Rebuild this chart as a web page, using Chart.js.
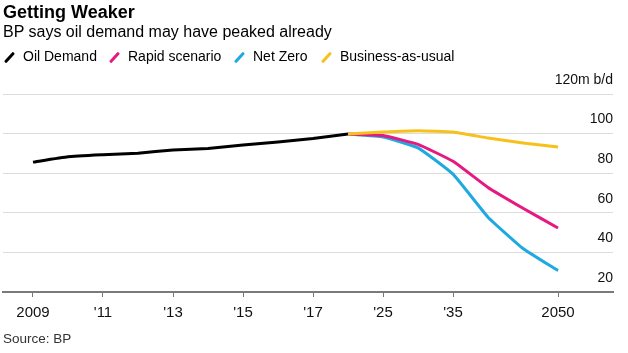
<!DOCTYPE html>
<html>
<head>
<meta charset="utf-8">
<script src="https://cdn.jsdelivr.net/npm/chart.js@4"></script>
<style>
  html, body { margin:0; padding:0; background:#fff; }
  body { width:628px; height:353px; position:relative; overflow:hidden; font-family:"Liberation Sans", Arial, sans-serif; color:#000; }
  #title { position:absolute; left:3px; top:3px; font-size:18px; line-height:18px; font-weight:bold; }
  #subtitle { position:absolute; left:3px; top:24px; font-size:16px; line-height:16px; }
  #legend { position:absolute; left:0; top:49px; font-size:14px; line-height:14px; white-space:nowrap; }
  .item { position:absolute; top:0; }
  .sw { position:absolute; top:2px; width:3px; height:13px; transform:rotate(42deg); border-radius:1px; }
  #source { position:absolute; left:3px; top:332px; font-size:13.5px; line-height:14px; color:#333; }
  #wrap { position:absolute; left:0; top:0; width:628px; height:353px; }
</style>
</head>
<body>
<div id="wrap"><canvas id="c" width="628" height="353"></canvas></div>
<div id="title">Getting Weaker</div>
<div id="subtitle">BP says oil demand may have peaked already</div>
<div id="legend"></div>
<div id="source">Source: BP</div>
<script>
// ---- data ----
const years = [2009, 2010, 2011, 2012, 2013, 2014, 2015, 2016, 2017, 2018, 2025, 2030, 2035, 2040, 2045, 2050];
const historyYears = [2009, 2010, 2011, 2012, 2013, 2014, 2015, 2016, 2017, 2018];
const scenarioYears = [2018, 2025, 2030, 2035, 2040, 2045, 2050];
const oilDemand = [85.6, 88.3, 89.3, 90.1, 91.7, 92.5, 94.2, 95.7, 97.5, 99.8];
const rapidScenario = [99.8, 99.0, 94.6, 86.0, 72.8, 62.3, 52.3];
const netZero = [99.8, 98.3, 92.8, 79.5, 57.8, 42.0, 30.8];
const businessAsUsual = [99.8, 100.8, 101.5, 100.8, 97.8, 95.3, 93.2];
const tickYears = [2009, 2011, 2013, 2015, 2017, 2025, 2035, 2050];
const tickLabels = ['2009', "'11", "'13", "'15", "'17", "'25", "'35", '2050'];
const yTicks = [20, 40, 60, 80, 100, 120];
const yTickLabels = ['20', '40', '60', '80', '100', '120m b/d'];

const seriesNames = ['Oil Demand', 'Rapid scenario', 'Net Zero', 'Business-as-usual'];
const seriesColors = ['#000000', '#e5197f', '#1fa9e1', '#f6c11b'];

const idx = y => years.indexOf(y);
const pts = (ys, vs) => ys.map((y, i) => ({ x: idx(y), y: vs[i] }));

const datasets = [
  { label: seriesNames[0], data: pts(historyYears, oilDemand), borderColor: seriesColors[0], order: 3 },
  { label: seriesNames[1], data: pts(scenarioYears, rapidScenario), borderColor: seriesColors[1], order: 1 },
  { label: seriesNames[2], data: pts(scenarioYears, netZero), borderColor: seriesColors[2], order: 2 },
  { label: seriesNames[3], data: pts(scenarioYears, businessAsUsual), borderColor: seriesColors[3], order: 0 }
].map(d => Object.assign(d, { borderWidth: 3, pointRadius: 0, tension: 0.12, fill: false, borderCapStyle: 'butt', borderJoinStyle: 'round' }));

// legend
const legendPos = [[23, 8], [128, 113], [253, 238], [340, 325]];
const lg = document.getElementById('legend');
seriesNames.forEach((n, i) => {
  const sw = document.createElement('div');
  sw.className = 'sw'; sw.style.left = legendPos[i][1] + 'px'; sw.style.background = seriesColors[i];
  lg.appendChild(sw);
  const t = document.createElement('div');
  t.className = 'item'; t.style.left = legendPos[i][0] + 'px'; t.textContent = n;
  lg.appendChild(t);
});

new Chart(document.getElementById('c'), {
  type: 'line',
  data: { datasets },
  options: {
    responsive: false,
    animation: false,
    events: [],
    layout: { padding: { top: 94, left: 3, right: 15, bottom: 24 } },
    plugins: { legend: { display: false }, tooltip: { enabled: false } },
    scales: {
      x: {
        type: 'linear',
        min: -0.857,
        max: 16.571,
        afterBuildTicks: s => { s.ticks = tickYears.map(y => ({ value: idx(y) })); },
        grid: { drawOnChartArea: false, drawTicks: true, tickLength: 5, color: '#777', lineWidth: 1 },
        border: { display: true, color: '#7a7a7a', width: 2 },
        ticks: {
          autoSkip: false, maxRotation: 0, padding: 7,
          color: '#111',
          font: { family: '"Liberation Sans", Arial, sans-serif', size: 15 },
          callback: v => { const k = tickYears.map(idx).indexOf(v); return k >= 0 ? tickLabels[k] : ''; }
        }
      },
      y: {
        position: 'right',
        min: 20,
        max: 120,
        afterBuildTicks: s => { s.ticks = yTicks.map(v => ({ value: v })); },
        grid: { drawTicks: false, color: c => (c.tick && c.tick.value === 20) ? 'rgba(0,0,0,0)' : '#dcdcdc', lineWidth: 1 },
        border: { display: false },
        ticks: {
          mirror: true, padding: 0, labelOffset: -14,
          color: '#111',
          font: { family: '"Liberation Sans", Arial, sans-serif', size: 14 },
          callback: v => { const k = yTicks.indexOf(v); return k >= 0 ? yTickLabels[k] : ''; }
        }
      }
    }
  }
});
</script>
</body>
</html>
